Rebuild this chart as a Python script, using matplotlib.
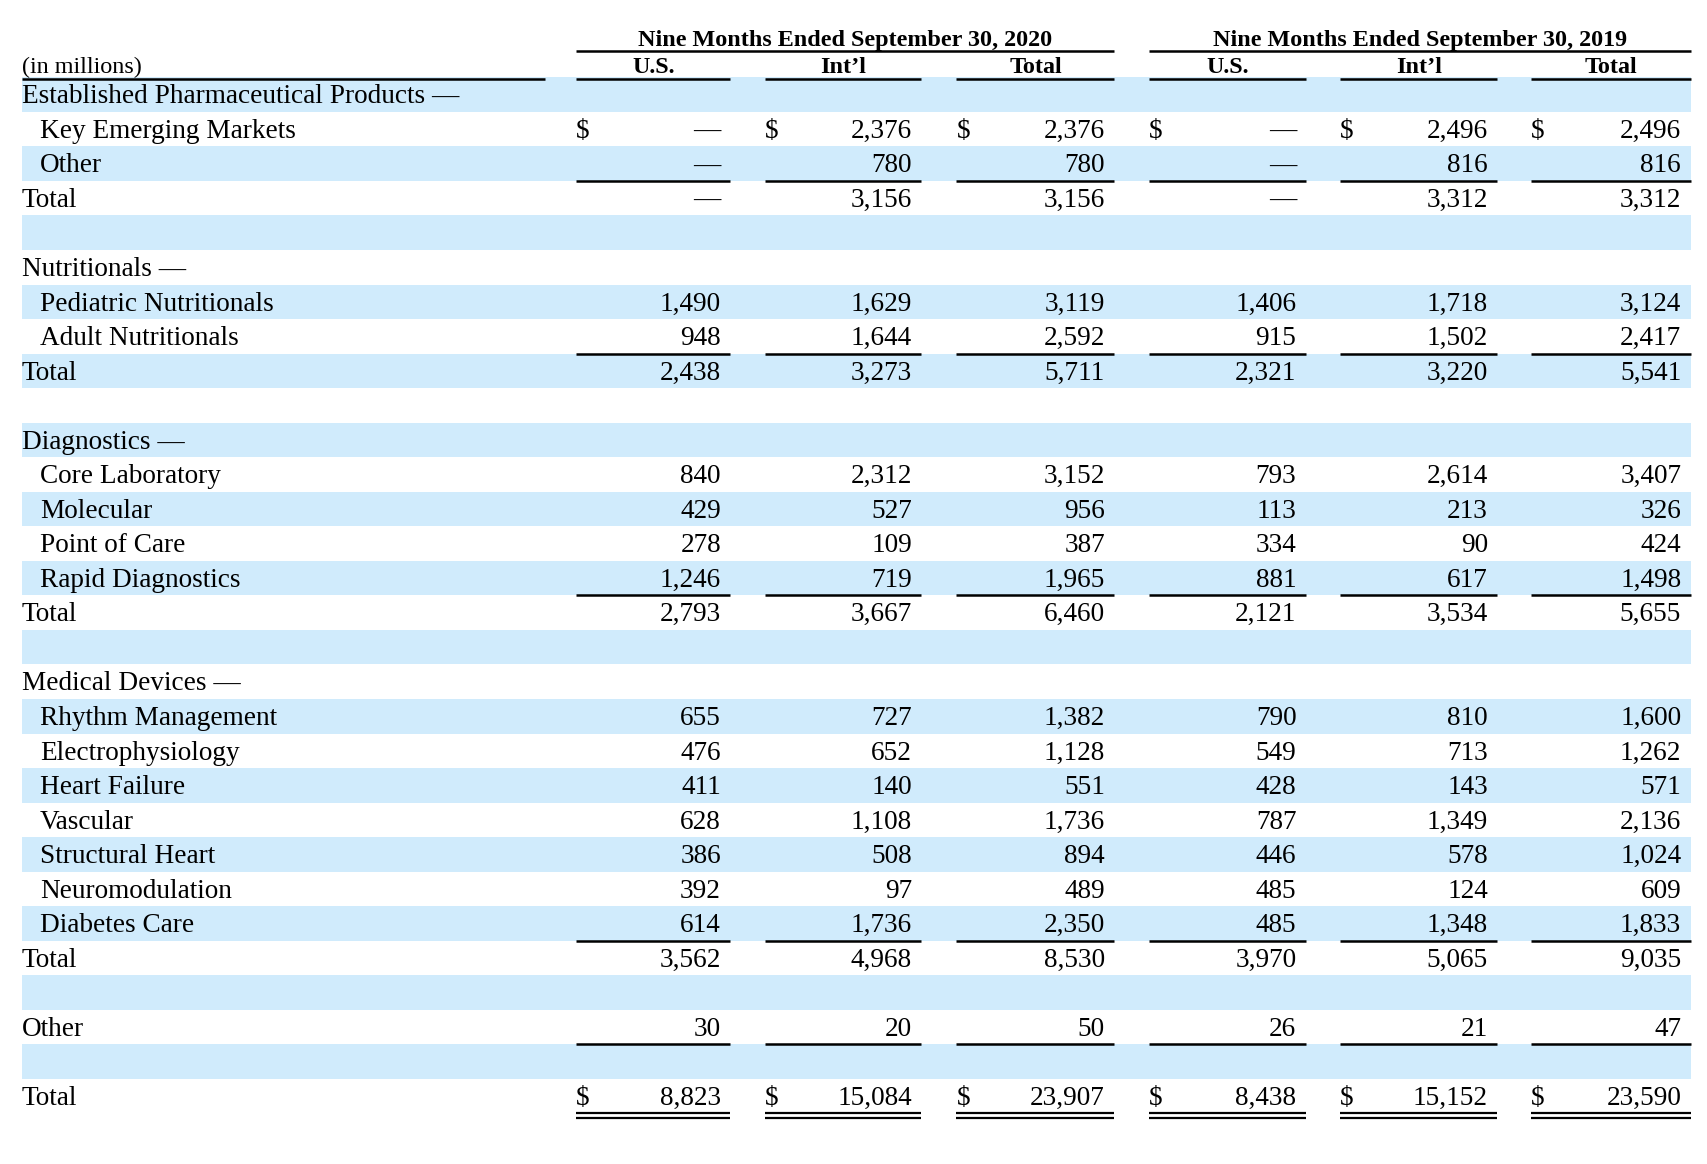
import matplotlib
matplotlib.use("Agg")
import matplotlib.pyplot as plt

# rows of the table (blank label = spacer row)
row_labels = [
    "Established Pharmaceutical Products —", "Key Emerging Markets", "Other", "Total", "",
    "Nutritionals —", "Pediatric Nutritionals", "Adult Nutritionals", "Total", "",
    "Diagnostics —", "Core Laboratory", "Molecular", "Point of Care", "Rapid Diagnostics", "Total", "",
    "Medical Devices —", "Rhythm Management", "Electrophysiology", "Heart Failure", "Vascular",
    "Structural Heart", "Neuromodulation", "Diabetes Care", "Total", "",
    "Other", "", "Total",
]
indented = [1, 2, 6, 7, 11, 12, 13, 14, 18, 19, 20, 21, 22, 23, 24]

N = None
us_2020 = [N, 0, 0, 0, N, N, 1490, 948, 2438, N, N, 840, 429, 278, 1246, 2793, N,
           N, 655, 476, 411, 628, 386, 392, 614, 3562, N, 30, N, 8823]
intl_2020 = [N, 2376, 780, 3156, N, N, 1629, 1644, 3273, N, N, 2312, 527, 109, 719, 3667, N,
             N, 727, 652, 140, 1108, 508, 97, 1736, 4968, N, 20, N, 15084]
total_2020 = [N, 2376, 780, 3156, N, N, 3119, 2592, 5711, N, N, 3152, 956, 387, 1965, 6460, N,
              N, 1382, 1128, 551, 1736, 894, 489, 2350, 8530, N, 50, N, 23907]
us_2019 = [N, 0, 0, 0, N, N, 1406, 915, 2321, N, N, 793, 113, 334, 881, 2121, N,
           N, 790, 549, 428, 787, 446, 485, 485, 3970, N, 26, N, 8438]
intl_2019 = [N, 2496, 816, 3312, N, N, 1718, 1502, 3220, N, N, 2614, 213, 90, 617, 3534, N,
             N, 810, 713, 143, 1349, 578, 124, 1348, 5065, N, 21, N, 15152]
total_2019 = [N, 2496, 816, 3312, N, N, 3124, 2417, 5541, N, N, 3407, 326, 424, 1498, 5655, N,
              N, 1600, 1262, 571, 2136, 1024, 609, 1833, 9035, N, 47, N, 23590]

dollar_rows = [1, 29]
rule_rows = [2, 7, 14, 24, 27]     # single rule under these rows
double_rule_rows = [29]

group_titles = ["Nine Months Ended September 30, 2020", "Nine Months Ended September 30, 2019"]
col_titles = ["U.S.", "Int\u2019l", "Total", "U.S.", "Int\u2019l", "Total"]
unit_label = "(in millions)"

# layout (pixels)
W, H = 1708, 1164
left, right = 22, 1690.7
col_left = [576, 765, 956.5, 1149, 1340, 1531]
col_right = [730.5, 921.5, 1114.5, 1306, 1497.5, 1690.7]
top0, pitch = 77.3, 34.54
band_color = "#d0ebfc"
FONT = "Liberation Serif"
FS = 19.6
FS_HEAD = 17.4
LW = 1.8

fig = plt.figure(figsize=(W / 100, H / 100), dpi=100)
ax = fig.add_axes([0, 0, 1, 1])
ax.set_xlim(0, W)
ax.set_ylim(H, 0)
ax.axis("off")

# banded rows
for i in range(len(row_labels)):
    if i % 2 == 0:
        ax.axhspan(top0 + i * pitch, top0 + (i + 1) * pitch, xmin=left / W, xmax=right / W,
                   color=band_color, lw=0, zorder=0)

# headers
for g, title in enumerate(group_titles):
    x0, x1 = col_left[3 * g], col_right[3 * g + 2]
    ax.text((x0 + x1) / 2, 46, title, ha="center", va="baseline", family=FONT,
            fontsize=FS_HEAD, fontweight="bold")
    ax.hlines(50.7, x0, x1, color="black", lw=LW, capstyle="butt")
for c, title in enumerate(col_titles):
    ax.text((col_left[c] + col_right[c]) / 2, 73.3, title, ha="center", va="baseline",
            family=FONT, fontsize=FS_HEAD, fontweight="bold")
    ax.hlines(78.5, col_left[c], col_right[c], color="black", lw=LW, capstyle="butt")
ax.text(left, 73.3, unit_label, ha="left", va="baseline", family=FONT, fontsize=FS_HEAD)
ax.hlines(78.5, left, 545, color="black", lw=LW, capstyle="butt")

# body
columns = [us_2020, intl_2020, total_2020, us_2019, intl_2019, total_2019]
for i, label in enumerate(row_labels):
    top = top0 + i * pitch
    base = top + 26
    x = 40 if i in indented else left
    ax.text(x, base, label, ha="left", va="baseline", family=FONT, fontsize=FS)
    for c, col in enumerate(columns):
        v = col[i]
        if v is None:
            continue
        s = "\u2014" if v == 0 else f"{v:,}"
        ax.text(col_right[c] - 9.5, base, s, ha="right", va="baseline", family=FONT, fontsize=FS)
        if i in dollar_rows:
            ax.text(col_left[c], base, "$", ha="left", va="baseline", family=FONT, fontsize=FS)
    if i in rule_rows:
        for c in range(6):
            ax.hlines(top + pitch, col_left[c], col_right[c], color="black", lw=LW, capstyle="butt")
    if i in double_rule_rows:
        for c in range(6):
            ax.hlines(top + pitch - 0.3, col_left[c], col_right[c], color="black", lw=1.6, capstyle="butt")
            ax.hlines(top + pitch + 4.7, col_left[c], col_right[c], color="black", lw=1.6, capstyle="butt")

fig.savefig("out.png", dpi=100, facecolor="white")
